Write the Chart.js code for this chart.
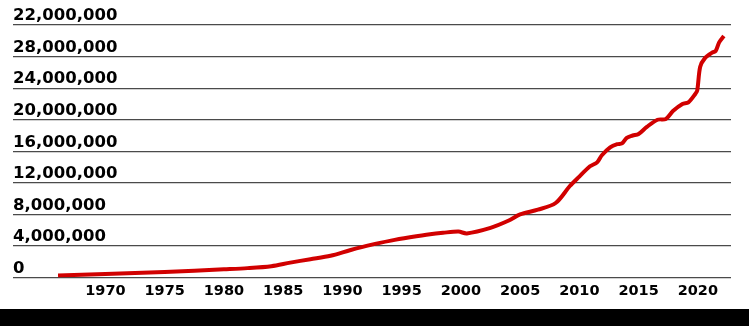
<!DOCTYPE html>
<html>
<head>
<meta charset="utf-8">
<script src="https://cdn.jsdelivr.net/npm/chart.js@4"></script>
<style>
	body { margin: 0; background: #fff; }
	#wrap { width: 749px; height: 309px; }
	#band { width: 749px; height: 17px; background: #000; }
</style>
</head>
<body>
<div id="wrap"><canvas id="myChart" width="749" height="309"></canvas></div>
<div id="band"></div>
<script>
// Data
const years = [1966.0, 1970, 1975, 1980, 1982, 1984, 1985.6, 1987.3, 1989, 1990.7, 1992.4, 1994.1, 1995.7,
	1997.4, 1998.5, 1999.8, 2000.5, 2002.5, 2004, 2005, 2006.5, 2008, 2009.2, 2010, 2010.9, 2011.5,
	2011.9, 2012.6, 2013.2, 2013.6, 2014, 2014.5, 2015, 2015.7, 2016.6, 2017.3, 2017.9, 2018.7,
	2019.2, 2019.8, 2019.95, 2020.2, 2020.6, 2021.2, 2021.5, 2021.8, 2022.2];
const values = [260000, 450000, 700000, 1050000, 1200000, 1450000, 1900000, 2330000, 2770000, 3500000, 4150000, 4680000, 5100000,
	5500000, 5680000, 5830000, 5600000, 6300000, 7200000, 8000000, 8600000, 9450000, 11600000, 12800000, 14100000, 14600000,
	15500000, 16500000, 16900000, 17000000, 17700000, 18000000, 18200000, 19100000, 20000000, 20100000, 21100000, 22000000,
	22200000, 23300000, 23700000, 26700000, 27800000, 28500000, 28700000, 29800000, 30600000];

const xTicks = [1970, 1975, 1980, 1985, 1990, 1995, 2000, 2005, 2010, 2015, 2020];
const yTicks = [0, 4000000, 8000000, 12000000, 16000000, 20000000, 24000000, 28000000, 32000000];
const yTickLabels = ['0', '4,000,000', '8,000,000', '12,000,000', '16,000,000', '20,000,000',
	'24,000,000', '28,000,000', '22,000,000'];

const canvas = document.getElementById('myChart');

function loadChart() {
	const points = years.map((yr, i) => ({ x: yr, y: values[i] }));
	new Chart(canvas, {
		type: 'line',
		data: {
			datasets: [{
				data: points,
				borderColor: '#d10000',
				borderWidth: 4,
				pointRadius: 0,
				tension: 0.3,
				fill: false
			}]
		},
		options: {
			responsive: false,
			animation: false,
			layout: { padding: { left: 13, right: 18, top: 25, bottom: 4 } },
			plugins: {
				legend: { display: false },
				tooltip: { enabled: false }
			},
			scales: {
				x: {
					type: 'linear',
					min: 1962.2,
					max: 2022.8,
					afterBuildTicks: (scale) => { scale.ticks = xTicks.map(v => ({ value: v })); },
					grid: { display: false, drawTicks: false },
					border: { display: false },
					ticks: {
						padding: 5,
						autoSkip: false,
						maxRotation: 0,
						color: '#000',
						font: { family: 'DejaVu Sans', weight: 'bold', size: 14.5 },
						callback: (v) => String(v)
					}
				},
				y: {
					min: 0,
					max: 32000000,
					afterBuildTicks: (scale) => { scale.ticks = yTicks.map(v => ({ value: v })); },
					grid: { color: '#4a4a4a', lineWidth: 1.3, drawTicks: false },
					border: { display: false },
					ticks: {
						mirror: true,
						padding: 0,
						labelOffset: -9,
						color: '#000',
						font: { family: 'DejaVu Sans', weight: 'bold', size: 16.5 },
						callback: (v) => yTickLabels[yTicks.indexOf(v)]
					}
				}
			}
		}
	});
}

loadChart();
</script>
</body>
</html>
